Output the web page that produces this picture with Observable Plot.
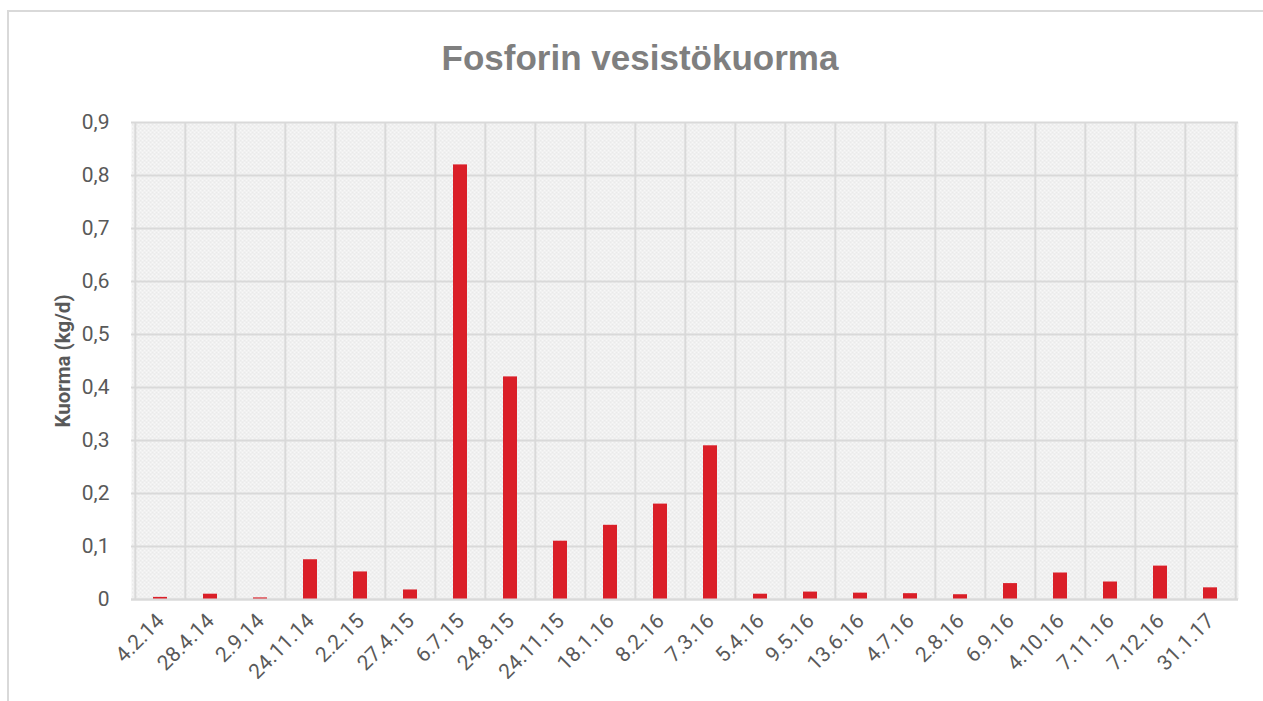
<!DOCTYPE html>
<html>
<head>
<meta charset="utf-8">
<script src="https://cdn.jsdelivr.net/npm/d3@7"></script>
<script src="https://cdn.jsdelivr.net/npm/@observablehq/plot@0.6"></script>
<style>
  html, body { margin: 0; padding: 0; background: #fff; overflow: hidden; }
  #wrap { position: relative; width: 1263px; height: 701px; }
  #border { position: absolute; left: 7px; top: 10px; width: 1300px; height: 720px; border: 2px solid #d9d9d9; box-sizing: border-box; }
  #title { position: absolute; left: 7px; width: 1266px; top: 38px; text-align: center;
           font-family: "Liberation Sans", Arial, sans-serif; font-weight: bold; font-size: 35px; color: #7f7f7f; }
  #chart { position: absolute; left: 0; top: 0; }
</style>
</head>
<body>
<div id="wrap">
  <div id="border"></div>
  <div id="title">Fosforin vesistökuorma</div>
  <div id="chart"></div>
</div>
<script>
const categories = ["4.2.14","28.4.14","2.9.14","24.11.14","2.2.15","27.4.15","6.7.15","24.8.15","24.11.15","18.1.16","8.2.16","7.3.16","5.4.16","9.5.16","13.6.16","4.7.16","2.8.16","6.9.16","4.10.16","7.11.16","7.12.16","31.1.17"];
const values = [0.004,0.010,0.003,0.075,0.052,0.018,0.82,0.42,0.11,0.14,0.18,0.29,0.010,0.014,0.012,0.011,0.009,0.030,0.050,0.033,0.063,0.022];
const yTicks = [0,0.1,0.2,0.3,0.4,0.5,0.6,0.7,0.8,0.9];

const data = categories.map((c, i) => ({date: c, value: values[i]}));

const W = 1263, H = 701, mL = 131, mR = 25, mT = 122, mB = 102;
const step = (W - mL - mR) / categories.length;

const fmt = d => d === 0 ? "0" : d.toFixed(1).replace(".", ",");

const chart = Plot.plot({
  width: W,
  height: H,
  marginLeft: mL,
  marginRight: mR,
  marginTop: mT,
  marginBottom: mB,
  style: {fontFamily: "Roboto, 'Liberation Sans', sans-serif", fontSize: "21px", color: "#595959", background: "transparent", overflow: "visible"},
  x: {type: "band", domain: categories, paddingInner: 0.72, paddingOuter: 0.36, axis: null},
  y: {domain: [0, 0.9], axis: null},
  marks: [
    Plot.frame({fill: "url(#bgpat)", stroke: null}),
    Plot.gridY(yTicks, {stroke: "#d9d9d9", strokeWidth: 2, strokeOpacity: 1}),
    Plot.ruleX(categories, {x: d => d, dx: -step / 2, stroke: "#d9d9d9", strokeWidth: 2}),
    Plot.ruleX(categories.slice(-1), {x: d => d, dx: step / 2, stroke: "#d9d9d9", strokeWidth: 2}),
    Plot.barY(data, {x: "date", y: "value", fill: "#da1f28"}),
    Plot.ruleY([0], {stroke: "#d9d9d9", strokeWidth: 2}),
    Plot.axisY(yTicks, {tickFormat: fmt, tickSize: 0, tickPadding: 22, fontSize: 21, fill: "#595959", label: null}),
    Plot.axisX({tickRotate: -45, tickSize: 0, tickPadding: 18, fontSize: 21, fill: "#595959", label: null}),
    Plot.text(["Kuorma (kg/d)"], {frameAnchor: "left", textAnchor: "middle", dx: -68, rotate: -90, fontWeight: "bold", fontSize: 20.5, fill: "#595959"})
  ]
});

// background pattern
const ns = "http://www.w3.org/2000/svg";
const defs = document.createElementNS(ns, "defs");
defs.innerHTML = `<pattern id="bgpat" width="4" height="4" patternUnits="userSpaceOnUse">
  <rect width="4" height="4" fill="#f7f7f7"/>
  <rect x="0" y="0" width="1" height="1" fill="#d8d8d8"/>
  <rect x="2" y="1" width="1" height="1" fill="#d8d8d8"/>
  <rect x="1" y="2" width="1" height="1" fill="#e0e0e0"/>
  <rect x="3" y="3" width="1" height="1" fill="#e0e0e0"/>
</pattern>`;
chart.insertBefore(defs, chart.firstChild);

document.getElementById("chart").appendChild(chart);
</script>
</body>
</html>
